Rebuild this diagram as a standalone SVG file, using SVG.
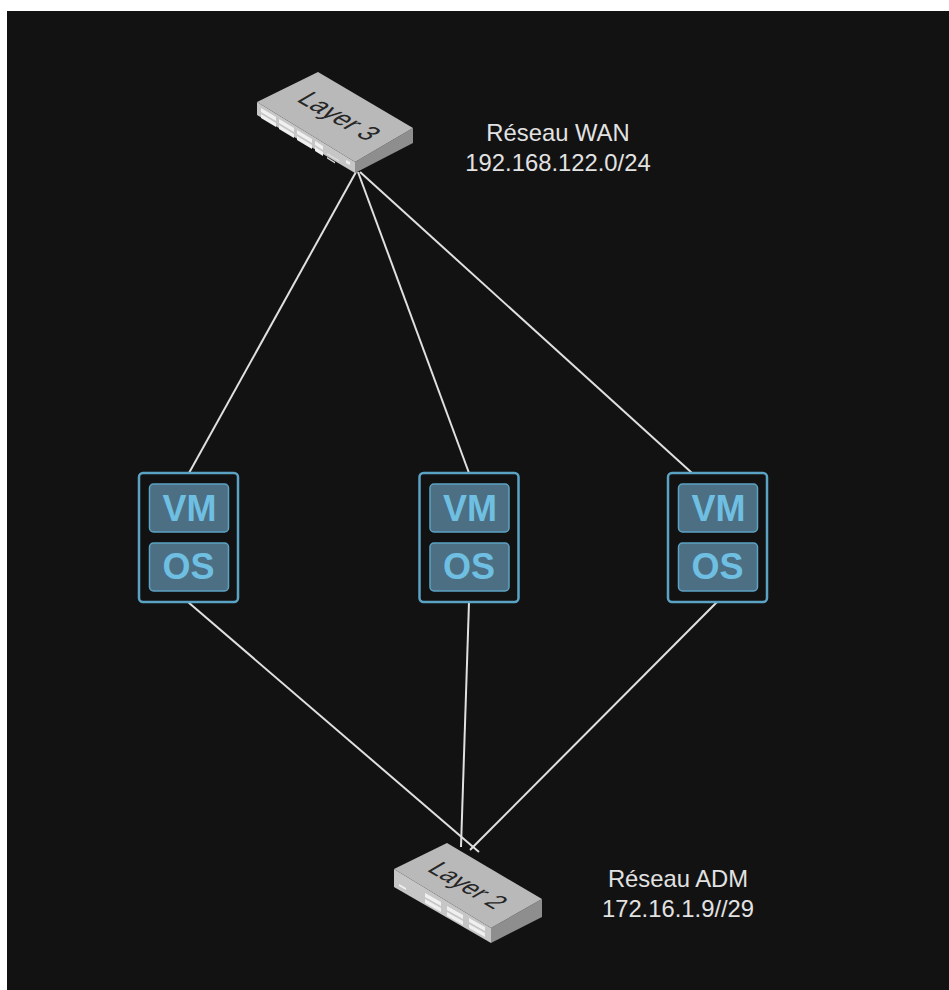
<svg xmlns="http://www.w3.org/2000/svg" width="949" height="990" viewBox="0 0 949 990">
<style>
.lbl{font-family:"Liberation Sans",Arial,sans-serif;font-size:23.800px;fill:#e2e2e2;text-anchor:middle}
.sw{font-family:"Liberation Sans",Arial,sans-serif;font-size:22px;fill:#262626;text-anchor:middle}
.top{fill:#b9b9b9}.front{fill:#c6c6c6}.side{fill:#8e8e8e}.port{fill:#f0f0f0}.dim{fill:#dedede}
.outer{fill:#121212;stroke:#5ba3c4;stroke-width:2.500}
.inner{fill:#4c6f83;stroke:#5ba3c4;stroke-width:1.500}
.vmt{font-family:"Liberation Sans",Arial,sans-serif;font-size:36px;font-weight:bold;fill:#6fbfe2;text-anchor:middle}
.c{stroke:#e0e0e0;stroke-width:2;fill:none}
</style>
<rect width="949" height="990" fill="#ffffff"/>
<rect x="7" y="11" width="942" height="979" fill="#121212"/>
<g id="connectors">
<line class="c" x1="356" y1="172" x2="189" y2="473"/>
<line class="c" x1="358" y1="172" x2="469" y2="473"/>
<line class="c" x1="360" y1="172" x2="692" y2="473"/>
<line class="c" x1="188" y1="602" x2="479" y2="852"/>
<line class="c" x1="469" y1="602" x2="461" y2="847"/>
<line class="c" x1="717" y1="602" x2="470" y2="850"/>
</g>
<g id="switch-l3">
<polygon class="front" points="257,102 355,162 355,173 257,115"/>
<polygon class="side" points="355,162 413,128 413,143 355,173"/>
<polygon class="top" points="318,72 413,128 355,162 257,102"/>
<g class="port">
<polygon points="261,108 276,117 276,121 261,112"/><polygon points="261,114 276,123 276,127 261,118"/>
<polygon points="279,119 294,128 294,132 279,123"/><polygon points="279,125 294,134 294,138 279,129"/>
<polygon points="297,130 312,139 312,143 297,134"/><polygon points="297,136 312,145 312,149 297,140"/>
<polygon points="315,141 323,146 323,150 315,145"/><polygon points="315,147 323,152 323,156 315,151"/>
<polygon points="346,160 350,162 350,165 346,163"/>
</g>
<g class="dim">
<polygon points="327,153 339,160 339,161.500 327,154.500"/><polygon points="327,157 335,162 335,163.500 327,158.500"/>
</g>
<text class="sw" transform="matrix(0.97 0.56 -1.1 0.65 331 121)">Layer 3</text>
</g>
<g id="switch-l2">
<polygon class="front" points="394,869 491,928 491,943 394,887"/>
<polygon class="side" points="491,928 542,899 542,917 491,943"/>
<polygon class="top" points="447,843 542,899 491,928 394,869"/>
<g class="port">
<polygon points="399,884 406,888 406,890 399,886"/>
<polygon points="425,893 441,902 441,906 425,897"/><polygon points="425,899 441,908 441,912 425,903"/>
<polygon points="447,906 463,915 463,919 447,910"/><polygon points="447,912 463,921 463,925 447,916"/>
<polygon points="469,918 485,927 485,931 469,922"/><polygon points="469,924 485,933 485,937 469,928"/>
</g>
<text class="sw" transform="matrix(0.93 0.54 -1.05 0.62 460 890)">Layer 2</text>
</g>
<g id="vm1">
<rect class="outer" x="139" y="473" width="99" height="129" rx="4"/>
<rect class="inner" x="149.500" y="484" width="79" height="48" rx="4"/>
<rect class="inner" x="149.500" y="543" width="79" height="48" rx="4"/>
<text class="vmt" x="189.500" y="521">VM</text><text class="vmt" x="188.500" y="579">OS</text>
</g>
<g id="vm2">
<rect class="outer" x="419.500" y="473" width="99" height="129" rx="4"/>
<rect class="inner" x="430" y="484" width="79" height="48" rx="4"/>
<rect class="inner" x="430" y="543" width="79" height="48" rx="4"/>
<text class="vmt" x="470" y="521">VM</text><text class="vmt" x="469" y="579">OS</text>
</g>
<g id="vm3">
<rect class="outer" x="668" y="473" width="99" height="129" rx="4"/>
<rect class="inner" x="678.500" y="484" width="79" height="48" rx="4"/>
<rect class="inner" x="678.500" y="543" width="79" height="48" rx="4"/>
<text class="vmt" x="718.500" y="521">VM</text><text class="vmt" x="717.500" y="579">OS</text>
</g>
<g id="label-wan"><text class="lbl" x="558" y="141">Réseau WAN</text><text class="lbl" x="558" y="171">192.168.122.0/24</text></g>
<g id="label-adm"><text class="lbl" x="678" y="887">Réseau ADM</text><text class="lbl" x="678" y="917">172.16.1.9//29</text></g>
</svg>
